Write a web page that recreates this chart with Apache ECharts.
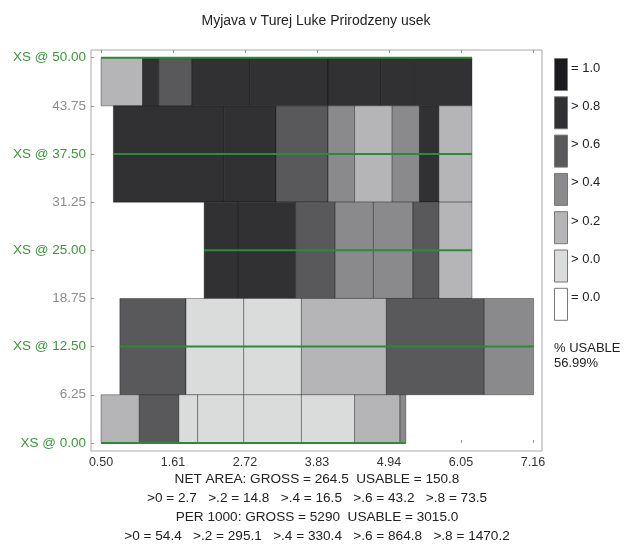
<!DOCTYPE html>
<html><head><meta charset="utf-8">
<script src="https://cdn.jsdelivr.net/npm/echarts@6/dist/echarts.min.js"></script>
<style>html,body{margin:0;padding:0;background:#fff}#c{width:625px;height:547px}</style>
</head><body><div id="c"></div>
<script>
// ---- data ----
const chartTitle = 'Myjava v Turej Luke Prirodzeny usek';
const xTicks = [0.50, 1.61, 2.72, 3.83, 4.94, 6.05, 7.16];
const yTicks = [0, 6.25, 12.5, 18.75, 25, 31.25, 37.5, 43.75, 50];
const xsStations = [0, 12.5, 25, 37.5, 50];
const xsStart = [0.50, 0.79, 2.09, 0.69, 0.50];
const xsEnd = [5.20, 7.17, 6.22, 6.22, 6.22];

const rowBottom = [43.75, 31.25, 18.75, 6.25, 0];
const rowTop = [50, 43.75, 31.25, 18.75, 6.25];
const row1Edges = [0.50, 1.14, 1.39, 1.90, 2.80, 4.00, 4.82, 5.32, 6.22];
const row1Levels = [2, 5, 4, 5, 5, 5, 5, 5];
const row2Edges = [0.69, 2.40, 3.20, 4.00, 4.41, 4.99, 5.41, 5.71, 6.22];
const row2Levels = [5, 5, 4, 3, 2, 3, 5, 2];
const row3Edges = [2.09, 2.61, 3.50, 4.11, 4.70, 5.31, 5.71, 6.22];
const row3Levels = [5, 5, 4, 3, 3, 4, 2];
const row4Edges = [0.79, 1.81, 2.70, 3.59, 4.90, 6.41, 7.17];
const row4Levels = [4, 1, 1, 2, 4, 3];
const row5Edges = [0.50, 1.09, 1.70, 1.99, 2.70, 3.59, 4.41, 5.11, 5.20];
const row5Levels = [2, 4, 1, 1, 1, 1, 2, 3];

const levelColors = ['#ffffff', '#dadbdb', '#b5b5b7', '#8a8a8c', '#59595b', '#313033', '#1b1a1e'];
const legendLabels = ['= 1.0', '> 0.8', '> 0.6', '> 0.4', '> 0.2', '> 0.0', '= 0.0'];
const legendLevels = [6, 5, 4, 3, 2, 1, 0];
const usableLabel = '% USABLE';
const usableValue = '56.99%';
const footerLines = [
  'NET AREA: GROSS = 264.5  USABLE = 150.8',
  '>0 = 2.7   >.2 = 14.8   >.4 = 16.5   >.6 = 43.2   >.8 = 73.5',
  'PER 1000: GROSS = 5290  USABLE = 3015.0',
  '>0 = 54.4   >.2 = 295.1   >.4 = 330.4   >.6 = 864.8   >.8 = 1470.2'
];

// ---- build ----
const FONT = '"Liberation Sans", Arial, sans-serif';
const rowEdges = [row1Edges, row2Edges, row3Edges, row4Edges, row5Edges];
const rowLevels = [row1Levels, row2Levels, row3Levels, row4Levels, row5Levels];
const cells = [];
rowEdges.forEach((edges, r) => {
  for (let i = 0; i < edges.length - 1; i++) {
    cells.push([edges[i], edges[i + 1], rowBottom[r], rowTop[r], rowLevels[r][i]]);
  }
});
const xsData = xsStations.map((y, i) => [xsStart[i], xsEnd[i], y]);

const chart = echarts.init(document.getElementById('c'), null, {renderer: 'canvas'});

const graphics = [];
graphics.push({type: 'text', x: 316, y: 21, style: {text: chartTitle, font: '14px ' + FONT, fill: '#222', align: 'center', verticalAlign: 'middle'}});
legendLabels.forEach((lab, i) => {
  const top = 58 + i * 38.3;
  graphics.push({type: 'rect', shape: {x: 554.5, y: top + 0.5, width: 13, height: 32}, style: {fill: levelColors[legendLevels[i]], stroke: '#777', lineWidth: 1}});
  graphics.push({type: 'text', x: 571, y: top + 10, style: {text: lab, font: '13px ' + FONT, fill: '#222', verticalAlign: 'middle'}});
});
graphics.push({type: 'text', x: 554, y: 348, style: {text: usableLabel, font: '13px ' + FONT, fill: '#222', verticalAlign: 'middle'}});
graphics.push({type: 'text', x: 554, y: 363, style: {text: usableValue, font: '13px ' + FONT, fill: '#222', verticalAlign: 'middle'}});
const footerY = [479, 498, 517, 536];
footerLines.forEach((t, i) => {
  graphics.push({type: 'text', x: 317, y: footerY[i], style: {text: t, font: '13.6px ' + FONT, fill: '#222', align: 'center', verticalAlign: 'middle'}});
});

const xAxisCommon = {
  type: 'value', min: 0.345, max: 7.30,
  axisLine: {show: false},
  splitLine: {show: false},
  axisTick: {show: true, inside: true, length: 3, lineStyle: {color: '#999'}, customValues: xTicks}
};

chart.setOption({
  animation: false,
  backgroundColor: '#fff',
  grid: {left: 91, right: 83, top: 50, bottom: 96, show: true, borderColor: '#a8a8a8', borderWidth: 1, backgroundColor: 'transparent'},
  xAxis: [
    Object.assign({}, xAxisCommon, {position: 'bottom',
      axisLabel: {customValues: xTicks, formatter: v => v.toFixed(2), color: '#333', fontSize: 12.5, fontFamily: FONT, margin: 5}}),
    Object.assign({}, xAxisCommon, {position: 'top', axisLabel: {show: false}})
  ],
  yAxis: {
    type: 'value', min: -1.05, max: 51,
    axisLine: {show: false}, splitLine: {show: false},
    axisTick: {show: true, inside: true, length: 3, lineStyle: {color: '#999'}, customValues: yTicks},
    axisLabel: {
      customValues: yTicks, margin: 5, fontFamily: FONT,
      formatter: v => xsStations.some(s => Math.abs(s - v) < 1e-6) ? '{xs|XS @ ' + v.toFixed(2) + '}' : '{n|' + v.toFixed(2) + '}',
      rich: {
        xs: {color: '#3a973a', fontSize: 13.5, fontFamily: FONT},
        n: {color: '#8c8c8c', fontSize: 13.5, fontFamily: FONT}
      }
    }
  },
  series: [
    {
      type: 'custom', xAxisIndex: 0, yAxisIndex: 0,
      encode: {x: [0, 1], y: [2, 3]},
      data: cells,
      renderItem: (params, api) => {
        const p0 = api.coord([api.value(0), api.value(3)]);
        const p1 = api.coord([api.value(1), api.value(2)]);
        return {type: 'rect', shape: {x: p0[0], y: p0[1], width: p1[0] - p0[0], height: p1[1] - p0[1]},
          style: {fill: levelColors[api.value(4)], stroke: 'rgba(0,0,0,0.35)', lineWidth: 1}};
      }
    },
    {
      type: 'custom', xAxisIndex: 0, yAxisIndex: 0,
      encode: {x: [0, 1], y: 2},
      data: xsData,
      renderItem: (params, api) => {
        const a = api.coord([api.value(0), api.value(2)]);
        const b = api.coord([api.value(1), api.value(2)]);
        return {type: 'line', shape: {x1: a[0], y1: a[1], x2: b[0], y2: b[1]}, style: {stroke: '#2d8a37', lineWidth: 2}};
      }
    }
  ],
  graphic: graphics
});
</script>
</body></html>
